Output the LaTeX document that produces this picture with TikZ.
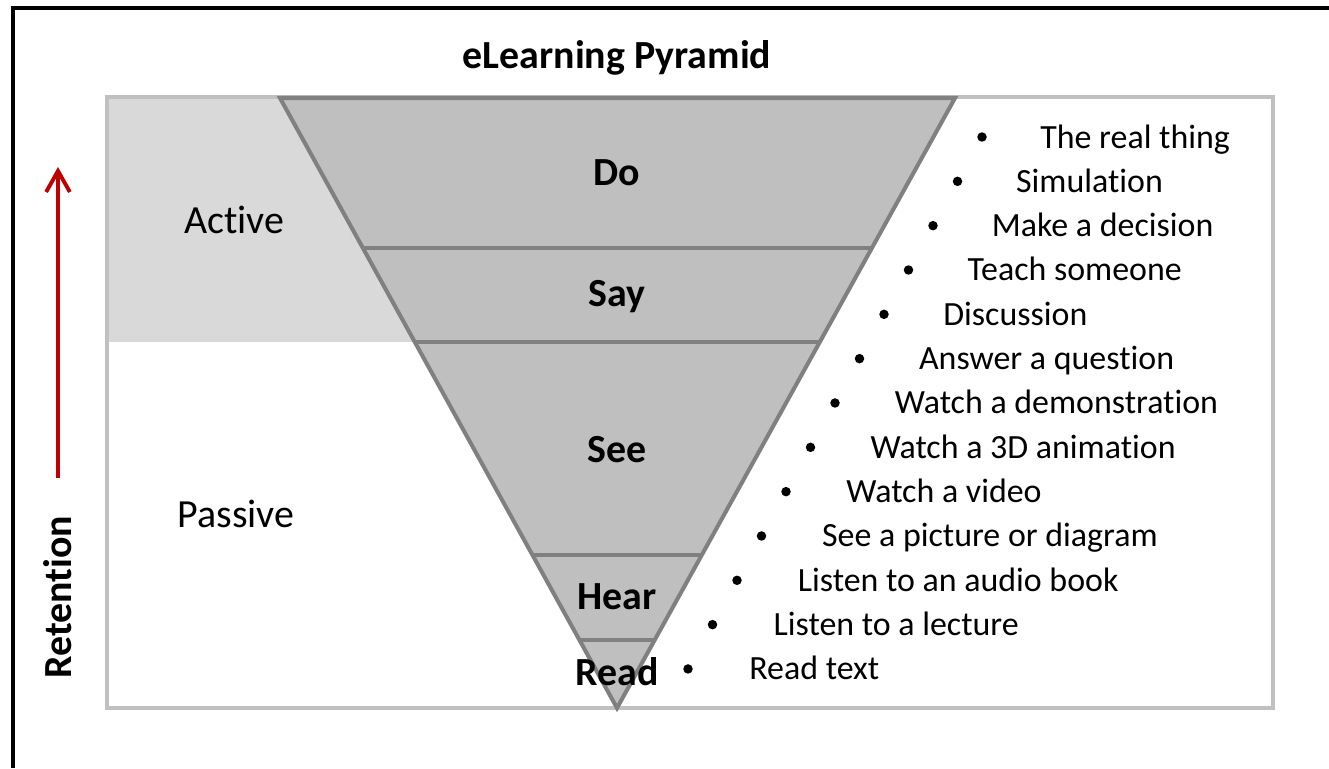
\documentclass[tikz,border=0pt]{standalone}
\usepackage{fontspec}
\setmainfont{Carlito}[Ligatures=NoCommon]
\usetikzlibrary{arrows.meta,calc}
\definecolor{boxgrey}{RGB}{192,192,192}
\definecolor{activefill}{RGB}{217,217,217}
\definecolor{pyrfill}{RGB}{191,191,191}
\definecolor{pyredge}{RGB}{128,128,128}
\definecolor{retred}{RGB}{192,0,0}

\tikzset{
    biglabel/.style={font=\fontsize{22.7}{26}\selectfont, inner sep=0pt, anchor=base},
    layerlabel/.style={biglabel, font=\fontsize{22.7}{26}\selectfont\bfseries},
    itemtext/.style={font=\fontsize{19.3}{23}\selectfont, inner sep=0pt, anchor=base west},
    itemdot/.style={circle, fill=black, inner sep=0pt, minimum size=5.4pt},
    divider/.style={pyredge, line width=1.9pt},
    retarrow/.style={retred, line width=2.2pt, -{Straight Barb[length=12pt, width=13.5pt]}}
}

\begin{document}
\begin{tikzpicture}[x=0.02cm, y=-0.02cm]
    \useasboundingbox (0,0) rectangle (1329,768);
    \fill[white] (0,0) rectangle (1329,768);

    % Frame
    \draw[black, line width=2.3pt] (13,768) -- (13,8) -- (1329,8);

    % Title
    \node[layerlabel] (title) at (617,68) {eLearning Pyramid};

    % Active band and outer box
    \fill[activefill] (107,97) rectangle (617,342);
    \draw[boxgrey, line width=2.8pt] (107,97) rectangle (1273,708);

    % Pyramid
    \coordinate (tl) at (280,98);
    \coordinate (tr) at (955,98);
    \coordinate (apex) at (617,708);
    \filldraw[fill=pyrfill, draw=pyredge, line width=2.3pt, line join=miter]
        (tl) -- (tr) -- (apex) -- cycle;
    \foreach \f/\nm in {0.2459/a, 0.4/b, 0.749/c, 0.8885/d} {
        \draw[divider] ($(tl)!\f!(apex)$) -- ($(tr)!\f!(apex)$);
    }

    % Layer labels
    \node[layerlabel] (do) at (617,185) {Do};
    \node[layerlabel] (say) at (617,306) {Say};
    \node[layerlabel] (see) at (617,462) {See};
    \node[layerlabel] (hear) at (617,609) {Hear};
    \node[layerlabel] (read) at (617,685) {Read};

    % Side labels
    \node[biglabel] (active) at (234,233) {Active};
    \node[biglabel] (passive) at (236,527) {Passive};

    % Retention arrow
    \coordinate (retlow) at (58,478);
    \coordinate (rettop) at (58,167);
    \draw[retarrow] (retlow) -- (rettop);
    \node[font=\fontsize{22.7}{26}\selectfont\bfseries, inner sep=0pt, rotate=90]
        (retention) at (58,597) {Retention};

    % Activities
    \foreach \txt [count=\i from 0] in {The real thing, Simulation, Make a decision,
        Teach someone, Discussion, Answer a question, Watch a demonstration,
        Watch a 3D animation, Watch a video, See a picture or diagram,
        Listen to an audio book, Listen to a lecture, Read text} {
        \node[itemdot] (dot\i) at ({982-24.5*\i},{137+44.33*\i}) {};
        \node[itemtext] (item\i) at ({1040-24.25*\i},{148+44.33*\i}) {\txt};
    }
\end{tikzpicture}
\end{document}
